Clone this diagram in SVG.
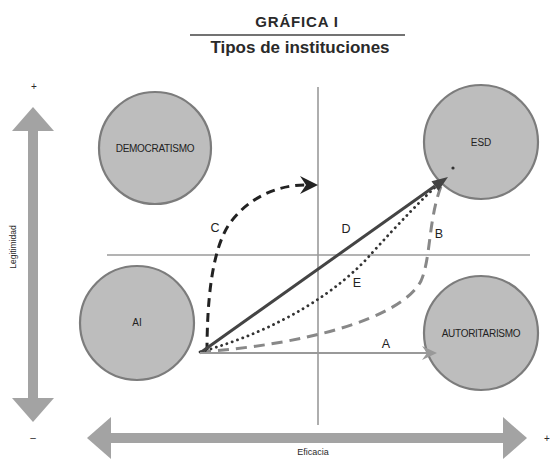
<svg xmlns="http://www.w3.org/2000/svg" width="552" height="459" viewBox="0 0 552 459">
<style>
.t{font-family:"Liberation Sans",Arial,sans-serif;fill:#2a2a2a}
.node{fill:#bdbdbd;stroke:#7c7c7c;stroke-width:2.2}
.nl{font-family:"Liberation Sans",Arial,sans-serif;font-size:10px;fill:#222;text-anchor:middle}
.big{fill:#a3a3a3}
.q{stroke:#9a9a9a;stroke-width:1.6;fill:none}
.lbl{font-family:"Liberation Sans",Arial,sans-serif;font-size:12.5px;fill:#222;text-anchor:middle}
</style>
<rect width="552" height="459" fill="#ffffff"/>
<g id="title">
<text class="t" x="297" y="27" font-size="15" font-weight="bold" text-anchor="middle" letter-spacing="0.8">GRÁFICA I</text>
<line x1="190" y1="35" x2="405" y2="35" stroke="#444" stroke-width="1.5"/>
<text class="t" x="300" y="53" font-size="17" font-weight="bold" text-anchor="middle">Tipos de instituciones</text>
</g>
<g id="axes">
<rect class="big" x="28" y="129" width="10" height="271"/>
<polygon class="big" points="33,107 12,131 54,131"/>
<polygon class="big" points="33,422 12,398 54,398"/>
<rect class="big" x="109" y="433" width="396" height="10"/>
<polygon class="big" points="87,438 111,417 111,459"/>
<polygon class="big" points="527,438 503,417 503,459"/>
<text class="t" x="34" y="90" font-size="10" text-anchor="middle">+</text>
<text class="t" x="33" y="441" font-size="10" text-anchor="middle">–</text>
<text class="t" x="547" y="442" font-size="10" text-anchor="middle">+</text>
<text class="t" x="313" y="455" font-size="9" text-anchor="middle">Eficacia</text>
<text class="t" transform="translate(16,247) rotate(-90)" font-size="8.5" text-anchor="middle">Legitimidad</text>
<line class="q" x1="318" y1="87" x2="318" y2="425"/>
<line class="q" x1="107" y1="255" x2="530" y2="255"/>
</g>
<g id="node-democratismo">
<circle class="node" cx="155" cy="148" r="56"/>
<text class="nl" x="155" y="152" letter-spacing="-0.3">DEMOCRATISMO</text>
</g>
<g id="node-esd">
<circle class="node" cx="481" cy="142" r="57"/>
<text class="nl" x="481" y="146" font-size="9">ESD</text>
</g>
<g id="node-ai">
<circle class="node" cx="137" cy="323" r="57"/>
<text class="nl" x="137" y="326" font-size="9">AI</text>
</g>
<g id="node-autoritarismo">
<circle class="node" cx="481" cy="333" r="57"/>
<text class="nl" x="481" y="337" letter-spacing="-0.3">AUTORITARISMO</text>
</g>
<g id="connectors">
<path d="M207 352 C207 300 212 252 228 226 C245 200 275 185 305 185" fill="none" stroke="#222" stroke-width="3" stroke-dasharray="9 6"/>
<polygon points="318,185 300,176 306,185 300,194" fill="#222"/>
<path d="M200 352 C300 345 400 320 421 281 C431 258 428 222 441 186" fill="none" stroke="#888" stroke-width="3" stroke-dasharray="11 7"/>
<path d="M200 352 C280 330 340 290 372 253 C400 222 425 196 442 181" fill="none" stroke="#333" stroke-width="2.8" stroke-linecap="round" stroke-dasharray="0.1 5.5"/>
<line x1="200" y1="353" x2="435" y2="186" stroke="#444" stroke-width="3"/>
<polygon points="448,177 438.4,191.1 431.5,181.3" fill="#444"/>
<circle cx="453" cy="168" r="1.6" fill="#333"/>
<line x1="200" y1="353" x2="428" y2="353" stroke="#999" stroke-width="2"/>
<polygon points="437,353 422,346 427,353 422,360" fill="#999"/>
<text class="lbl" x="215" y="232">C</text>
<text class="lbl" x="346" y="233">D</text>
<text class="lbl" x="439" y="238">B</text>
<text class="lbl" x="357" y="287">E</text>
<text class="lbl" x="386" y="348">A</text>
</g>
</svg>
